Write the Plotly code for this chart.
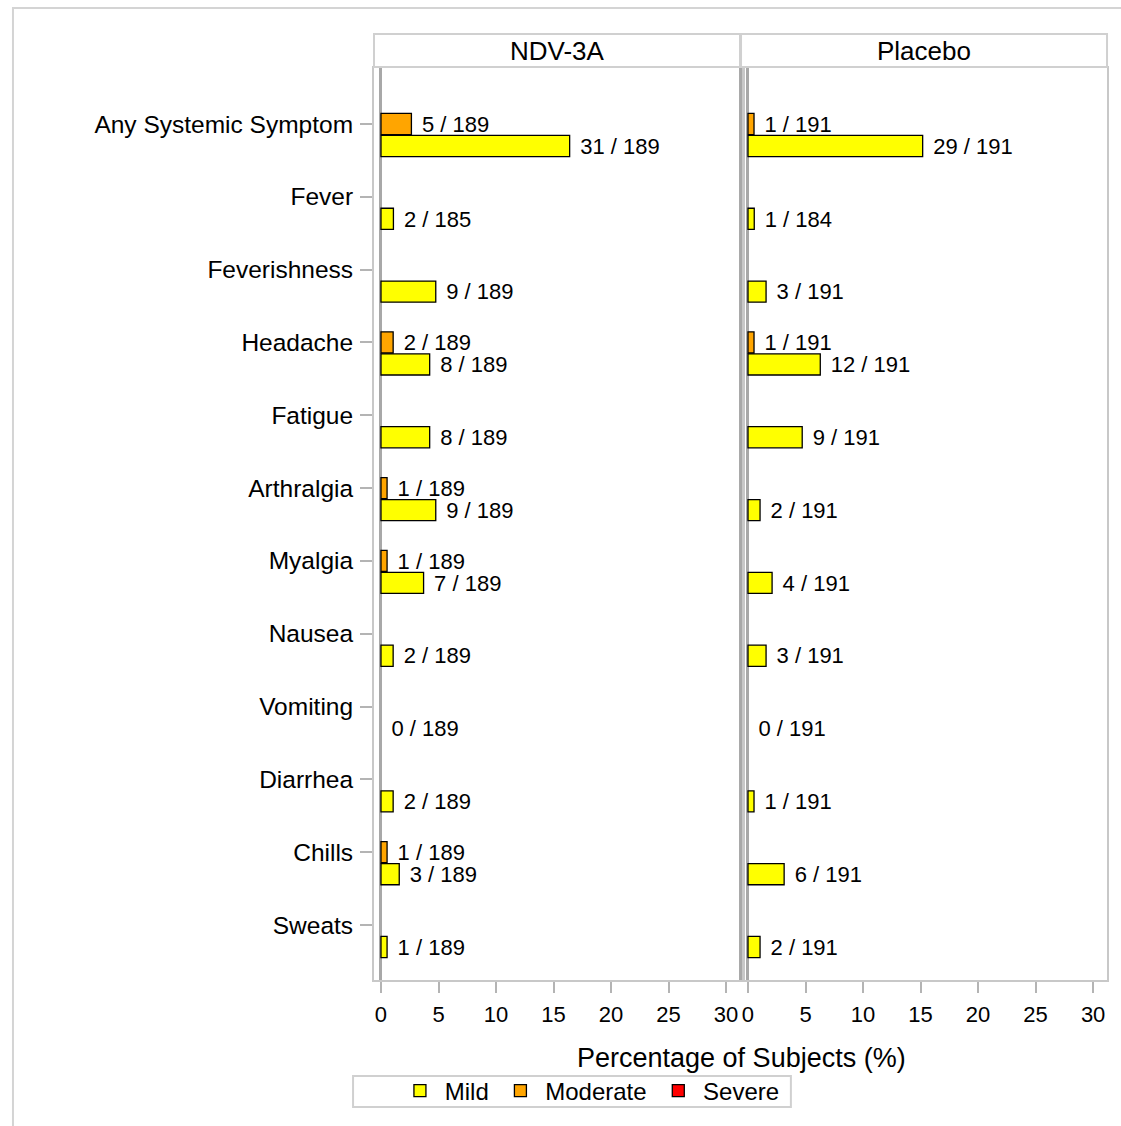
import plotly.graph_objects as go

# Solicited systemic adverse events by maximum severity
symptoms = ["Any Systemic Symptom", "Fever", "Feverishness", "Headache", "Fatigue",
            "Arthralgia", "Myalgia", "Nausea", "Vomiting", "Diarrhea", "Chills", "Sweats"]

ndv_n = [189, 185, 189, 189, 189, 189, 189, 189, 189, 189, 189, 189]
ndv_mild = [31, 2, 9, 8, 8, 9, 7, 2, 0, 2, 3, 1]
ndv_moderate = [5, 0, 0, 2, 0, 1, 1, 0, 0, 0, 1, 0]
ndv_severe = [0] * 12

pbo_n = [191, 184, 191, 191, 191, 191, 191, 191, 191, 191, 191, 191]
pbo_mild = [29, 1, 3, 12, 9, 2, 4, 3, 0, 1, 6, 2]
pbo_moderate = [1, 0, 0, 1, 0, 0, 0, 0, 0, 0, 0, 0]
pbo_severe = [0] * 12

x_ticks = [0, 5, 10, 15, 20, 25, 30]
panels = ["NDV-3A", "Placebo"]

W, H = 1121, 1126
FONT = "Liberation Sans, Arial, sans-serif"
COLORS = {"Mild": "#FFFF00", "Moderate": "#FFA500", "Severe": "#FF0000"}
OFFSET = {"Severe": -0.302, "Moderate": 0.0, "Mild": 0.302}
BAR_W = 0.29
LABEL_DY = 0.03          # nudges the count text onto the bar centre line
NBSP, THIN = "\u00a0", "\u2009"
LEGEND_NAMES = {"Mild": THIN + "Mild" + NBSP,
                "Moderate": THIN + "Moderate" + NBSP,
                "Severe": THIN + "Severe"}


def px(x):
    return x / W


def py(y):
    return 1 - y / H


fig = go.Figure()

groups = [
    ("x", "y", ndv_n, {"Mild": ndv_mild, "Moderate": ndv_moderate, "Severe": ndv_severe}),
    ("x2", "y2", pbo_n, {"Mild": pbo_mild, "Moderate": pbo_moderate, "Severe": pbo_severe}),
]

for gi, (xa, ya, ns, sev) in enumerate(groups):
    for level in ["Mild", "Moderate", "Severe"]:
        counts = sev[level]
        pct = [100.0 * c / n for c, n in zip(counts, ns)]
        ypos = [i + OFFSET[level] for i in range(len(symptoms))]
        # empty categories get no bar at all
        bar_x = [p if c > 0 else None for p, c in zip(pct, counts)]
        fig.add_trace(go.Bar(
            x=bar_x, y=ypos, base=0, orientation="h", width=BAR_W,
            marker=dict(color=COLORS[level], line=dict(color="black", width=1.3)),
            name=LEGEND_NAMES[level], legendgroup=level, showlegend=(gi == 0),
            xaxis=xa, yaxis=ya, hoverinfo="skip",
        ))
        # count labels: mild always shown, other levels only when non-zero
        labels = []
        for c, n in zip(counts, ns):
            if level == "Mild" or c > 0:
                labels.append(f" {THIN}{c} / {n}")
            else:
                labels.append("")
        fig.add_trace(go.Scatter(
            x=pct, y=[v + LABEL_DY for v in ypos], mode="text", text=labels,
            textposition="middle right",
            textfont=dict(family=FONT, size=22, color="black"),
            showlegend=False, xaxis=xa, yaxis=ya, hoverinfo="skip", cliponaxis=False,
        ))

n_cat = len(symptoms)
y_range = [11.755, -0.769]

axis_common = dict(
    tickvals=x_ticks, ticktext=[str(v) for v in x_ticks],
    ticks="outside", ticklen=11, tickwidth=2, tickcolor="#b4b4b4",
    tickfont=dict(family=FONT, size=22, color="black"), ticklabelstandoff=3,
    showgrid=False, zeroline=True, zerolinecolor="#a8a8a8", zerolinewidth=3,
    showline=True, linecolor="#c8c8c8", linewidth=2, mirror=True,
    fixedrange=True,
)

fig.update_layout(
    width=W, height=H,
    margin=dict(l=0, r=0, t=0, b=0),
    paper_bgcolor="white", plot_bgcolor="white",
    font=dict(family=FONT, color="black"),
    barmode="overlay",
    xaxis=dict(domain=[px(372), px(740)], range=[-0.607, 31.30], anchor="y", **axis_common),
    xaxis2=dict(domain=[px(744), px(1107)], range=[-0.26, 31.21], anchor="y2", **axis_common),
    yaxis=dict(
        domain=[py(980), py(68)], range=y_range, anchor="x",
        tickvals=list(range(n_cat)), ticktext=symptoms,
        ticks="outside", ticklen=12, tickwidth=2, tickcolor="#b4b4b4",
        tickfont=dict(family=FONT, size=24.5, color="black"), ticklabelstandoff=2,
        showgrid=False, zeroline=False,
        showline=True, linecolor="#c8c8c8", linewidth=2, mirror=True,
    ),
    yaxis2=dict(
        domain=[py(980), py(68)], range=y_range, anchor="x2", matches="y",
        showticklabels=False, ticks="", showgrid=False, zeroline=False,
        showline=True, linecolor="#c8c8c8", linewidth=2, mirror=True,
    ),
    legend=dict(
        orientation="h", x=px(398), y=py(1091), xanchor="left", yanchor="middle",
        font=dict(family=FONT, size=24, color="black"),
        bgcolor="rgba(0,0,0,0)", borderwidth=0, traceorder="normal",
        itemclick=False, itemdoubleclick=False,
    ),
    showlegend=True,
)

shapes = [
    # outer frame
    dict(type="rect", xref="paper", yref="paper", x0=px(10), x1=1.02, y0=-0.02, y1=py(8),
         line=dict(color="#d4d4d4", width=2), layer="below"),
    # heavier divider between the two panels
    dict(type="line", xref="paper", yref="paper", x0=px(739.5), x1=px(739.5),
         y0=py(980), y1=py(68), line=dict(color="#a8a8a8", width=3)),
    # legend frame
    dict(type="rect", xref="paper", yref="paper", x0=px(351), x1=px(790), y0=py(1107), y1=py(1076),
         line=dict(color="#d0d0d0", width=2)),
]
# panel header cells
header_x = [(372, 739), (740, 1107)]
annotations = []
for (x0, x1), title in zip(header_x, panels):
    shapes.append(dict(type="rect", xref="paper", yref="paper", x0=px(x0), x1=px(x1),
                       y0=py(67), y1=py(34), line=dict(color="#d0d0d0", width=2),
                       fillcolor="white"))
    annotations.append(dict(text=title, xref="paper", yref="paper", x=px((x0 + x1) / 2), y=py(51),
                            xanchor="center", yanchor="middle", showarrow=False,
                            font=dict(family=FONT, size=26, color="black")))

annotations.append(dict(text="Percentage of Subjects (%)", xref="paper", yref="paper",
                        x=px(740), y=py(1058), xanchor="center", yanchor="middle", showarrow=False,
                        font=dict(family=FONT, size=27, color="black")))

fig.update_layout(shapes=shapes, annotations=annotations)

fig.write_html("out.html")
